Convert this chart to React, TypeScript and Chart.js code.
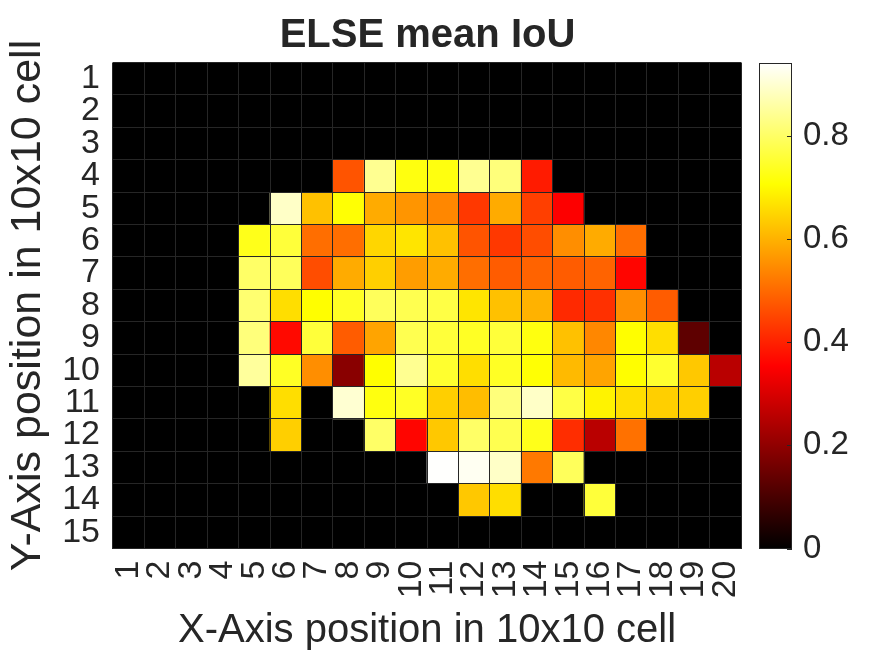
import React, { useEffect, useRef } from 'react';
import { Chart, registerables } from 'chart.js';

Chart.register(...registerables);

const xLabels = ['1', '2', '3', '4', '5', '6', '7', '8', '9', '10', '11', '12', '13', '14', '15', '16', '17', '18', '19', '20'];
const yLabels = ['1', '2', '3', '4', '5', '6', '7', '8', '9', '10', '11', '12', '13', '14', '15'];
const cbTicks = [0, 0.2, 0.4, 0.6, 0.8];
const cbMax = 0.9416;

const row01 = [0, 0, 0, 0, 0, 0, 0, 0, 0, 0, 0, 0, 0, 0, 0, 0, 0, 0, 0, 0];
const row02 = [0, 0, 0, 0, 0, 0, 0, 0, 0, 0, 0, 0, 0, 0, 0, 0, 0, 0, 0, 0];
const row03 = [0, 0, 0, 0, 0, 0, 0, 0, 0, 0, 0, 0, 0, 0, 0, 0, 0, 0, 0, 0];
const row04 = [0, 0, 0, 0, 0, 0, 0, 0.47, 0.84, 0.72, 0.72, 0.84, 0.82, 0.39, 0, 0, 0, 0, 0, 0];
const row05 = [0, 0, 0, 0, 0, 0.89, 0.62, 0.71, 0.59, 0.56, 0.54, 0.43, 0.59, 0.44, 0.35, 0, 0, 0, 0, 0];
const row06 = [0, 0, 0, 0, 0.73, 0.76, 0.505, 0.505, 0.65, 0.67, 0.62, 0.47, 0.43, 0.46, 0.55, 0.59, 0.505, 0, 0, 0];
const row07 = [0, 0, 0, 0, 0.8, 0.79, 0.46, 0.59, 0.64, 0.57, 0.59, 0.505, 0.48, 0.49, 0.48, 0.49, 0.36, 0, 0, 0];
const row08 = [0, 0, 0, 0, 0.81, 0.66, 0.705, 0.74, 0.79, 0.78, 0.77, 0.67, 0.62, 0.6, 0.41, 0.42, 0.55, 0.48, 0, 0];
const row09 = [0, 0, 0, 0, 0.82, 0.365, 0.76, 0.48, 0.58, 0.78, 0.76, 0.74, 0.76, 0.72, 0.62, 0.54, 0.705, 0.66, 0.13, 0];
const row10 = [0, 0, 0, 0, 0.85, 0.74, 0.55, 0.19, 0.705, 0.84, 0.75, 0.66, 0.74, 0.71, 0.61, 0.58, 0.705, 0.75, 0.63, 0.256];
const row11 = [0, 0, 0, 0, 0, 0.66, 0, 0.9, 0.72, 0.74, 0.64, 0.615, 0.82, 0.89, 0.77, 0.69, 0.66, 0.64, 0.64, 0];
const row12 = [0, 0, 0, 0, 0, 0.64, 0, 0, 0.8, 0.36, 0.63, 0.8, 0.78, 0.73, 0.415, 0.256, 0.51, 0, 0, 0];
const row13 = [0, 0, 0, 0, 0, 0, 0, 0, 0, 0, 0.94, 0.93, 0.89, 0.52, 0.79, 0, 0, 0, 0, 0];
const row14 = [0, 0, 0, 0, 0, 0, 0, 0, 0, 0, 0, 0.63, 0.66, 0, 0, 0.76, 0, 0, 0, 0];
const row15 = [0, 0, 0, 0, 0, 0, 0, 0, 0, 0, 0, 0, 0, 0, 0, 0, 0, 0, 0, 0];

const iouRows = [row01, row02, row03, row04, row05, row06, row07, row08, row09, row10, row11, row12, row13, row14, row15];

const TEXT = '#262626';
const GRID = '#262626';
const FONT = '"Liberation Sans", Arial, Helvetica, sans-serif';

const clamp = (v: number) => Math.max(0, Math.min(1, v));

function hot(v: number): string {
  const t = clamp(v / cbMax);
  const r = clamp(t / 0.375);
  const g = clamp((t - 0.375) / 0.375);
  const b = clamp((t - 0.75) / 0.25);
  return `rgb(${Math.round(r * 255)},${Math.round(g * 255)},${Math.round(b * 255)})`;
}

const colorbarPlugin = {
  id: 'colorbar',
  afterDraw(chart: any) {
    const s = chart.scales.cb;
    if (!s) return;
    const ctx = chart.ctx as CanvasRenderingContext2D;
    const x0 = chart.chartArea.right + 18;
    const x1 = chart.chartArea.right + 51;
    const yTop = s.getPixelForValue(cbMax);
    const yBot = s.getPixelForValue(0);
    ctx.save();
    const g = ctx.createLinearGradient(0, yBot, 0, yTop);
    g.addColorStop(0, 'rgb(0,0,0)');
    g.addColorStop(0.375, 'rgb(255,0,0)');
    g.addColorStop(0.75, 'rgb(255,255,0)');
    g.addColorStop(1, 'rgb(255,255,255)');
    ctx.fillStyle = g;
    ctx.fillRect(x0, yTop, x1 - x0, yBot - yTop);
    ctx.strokeStyle = GRID;
    ctx.lineWidth = 1;
    ctx.strokeRect(Math.round(x0) + 0.5, Math.round(yTop) + 0.5, Math.round(x1 - x0) - 1, Math.round(yBot - yTop) - 1);
    ctx.beginPath();
    cbTicks.forEach((v) => {
      const y = Math.round(s.getPixelForValue(v)) + 0.5;
      ctx.moveTo(x1 - 5, y);
      ctx.lineTo(x1, y);
    });
    ctx.stroke();
    ctx.restore();
  },
};

export default function App() {
  const canvasRef = useRef<HTMLCanvasElement | null>(null);

  useEffect(() => {
    if (!canvasRef.current) return;
    Chart.defaults.font.family = FONT;
    Chart.defaults.color = TEXT;
    Chart.defaults.borderColor = 'rgba(0,0,0,0)';

    const datasets = iouRows.map((row, i) => ({
      label: yLabels[i],
      data: row.map(() => [i + 0.5, i + 1.5]),
      backgroundColor: row.map(hot),
      borderWidth: 0,
      barPercentage: 1,
      categoryPercentage: 1,
      grouped: false,
      xAxisID: 'x',
      yAxisID: 'y',
    }));

    const chart = new Chart(canvasRef.current, {
      type: 'bar',
      data: { labels: xLabels, datasets: datasets as any },
      plugins: [colorbarPlugin],
      options: {
        animation: false,
        responsive: true,
        maintainAspectRatio: false,
        events: [],
        layout: { padding: { left: 0, top: 0, bottom: 0, right: 20 } },
        plugins: {
          legend: { display: false },
          tooltip: { enabled: false },
          subtitle: { display: false },
          title: {
            display: true,
            text: 'ELSE mean IoU',
            color: TEXT,
            font: { size: 40, weight: 'bold', family: FONT, lineHeight: 1.2 },
            padding: { top: 12, bottom: 2.5 },
          },
        },
        scales: {
          x: {
            type: 'category',
            position: 'bottom',
            offset: true,
            grid: { display: true, offset: true, color: GRID, lineWidth: 1, z: 1, drawTicks: false },
            border: { display: false },
            ticks: {
              autoSkip: false,
              minRotation: 90,
              maxRotation: 90,
              padding: 12,
              color: TEXT,
              font: { size: 34, family: FONT },
            },
            title: {
              display: true,
              text: 'X-Axis position in 10x10 cell',
              color: TEXT,
              font: { size: 40, family: FONT, lineHeight: 1.2 },
              padding: { top: 0, bottom: 1 },
            },
            afterFit: (s: any) => {
              s.height = 107.5;
            },
          },
          y: {
            type: 'linear',
            position: 'left',
            min: 0.5,
            max: 15.5,
            reverse: true,
            afterBuildTicks: (s: any) => {
              s.ticks = yLabels.map((_, i) => ({ value: i + 1 }));
            },
            grid: { display: false, drawTicks: false },
            border: { display: false },
            ticks: {
              autoSkip: false,
              padding: 13,
              color: TEXT,
              font: { size: 34, family: FONT },
              callback: (v: any) => yLabels[Math.round(Number(v)) - 1] ?? '',
            },
            title: {
              display: true,
              text: 'Y-Axis position in 10x10 cell',
              color: TEXT,
              font: { size: 43, family: FONT, lineHeight: 1.2 },
              padding: { top: 2, bottom: 0 },
            },
            afterFit: (s: any) => {
              s.width = 113;
            },
          },
          yg: {
            type: 'linear',
            axis: 'y',
            position: 'left',
            min: 0.5,
            max: 15.5,
            reverse: true,
            afterBuildTicks: (s: any) => {
              s.ticks = [...yLabels.map((_, i) => ({ value: i + 0.5 })), { value: yLabels.length + 0.5 }];
            },
            grid: { display: true, color: GRID, lineWidth: 1, z: 1, drawTicks: false },
            border: { display: false },
            ticks: { display: false },
            afterFit: (s: any) => {
              s.width = 0;
            },
          },
          cb: {
            type: 'linear',
            axis: 'y',
            position: 'right',
            min: 0,
            max: cbMax,
            afterBuildTicks: (s: any) => {
              s.ticks = cbTicks.map((v) => ({ value: v }));
            },
            grid: { display: true, drawOnChartArea: false, drawTicks: true, tickLength: 52, color: 'rgba(0,0,0,0)' },
            border: { display: false },
            ticks: {
              padding: 10,
              color: TEXT,
              font: { size: 33, family: FONT },
              callback: (v: any) => String(Math.round(Number(v) * 10) / 10),
            },
            afterFit: (s: any) => {
              s.width = 114;
            },
          },
        },
      } as any,
    });

    return () => {
      chart.destroy();
    };
  }, []);

  return (
    <div style={{ position: 'absolute', left: 0, top: 0, width: 875, height: 656, background: '#ffffff' }}>
      <canvas ref={canvasRef} />
    </div>
  );
}
